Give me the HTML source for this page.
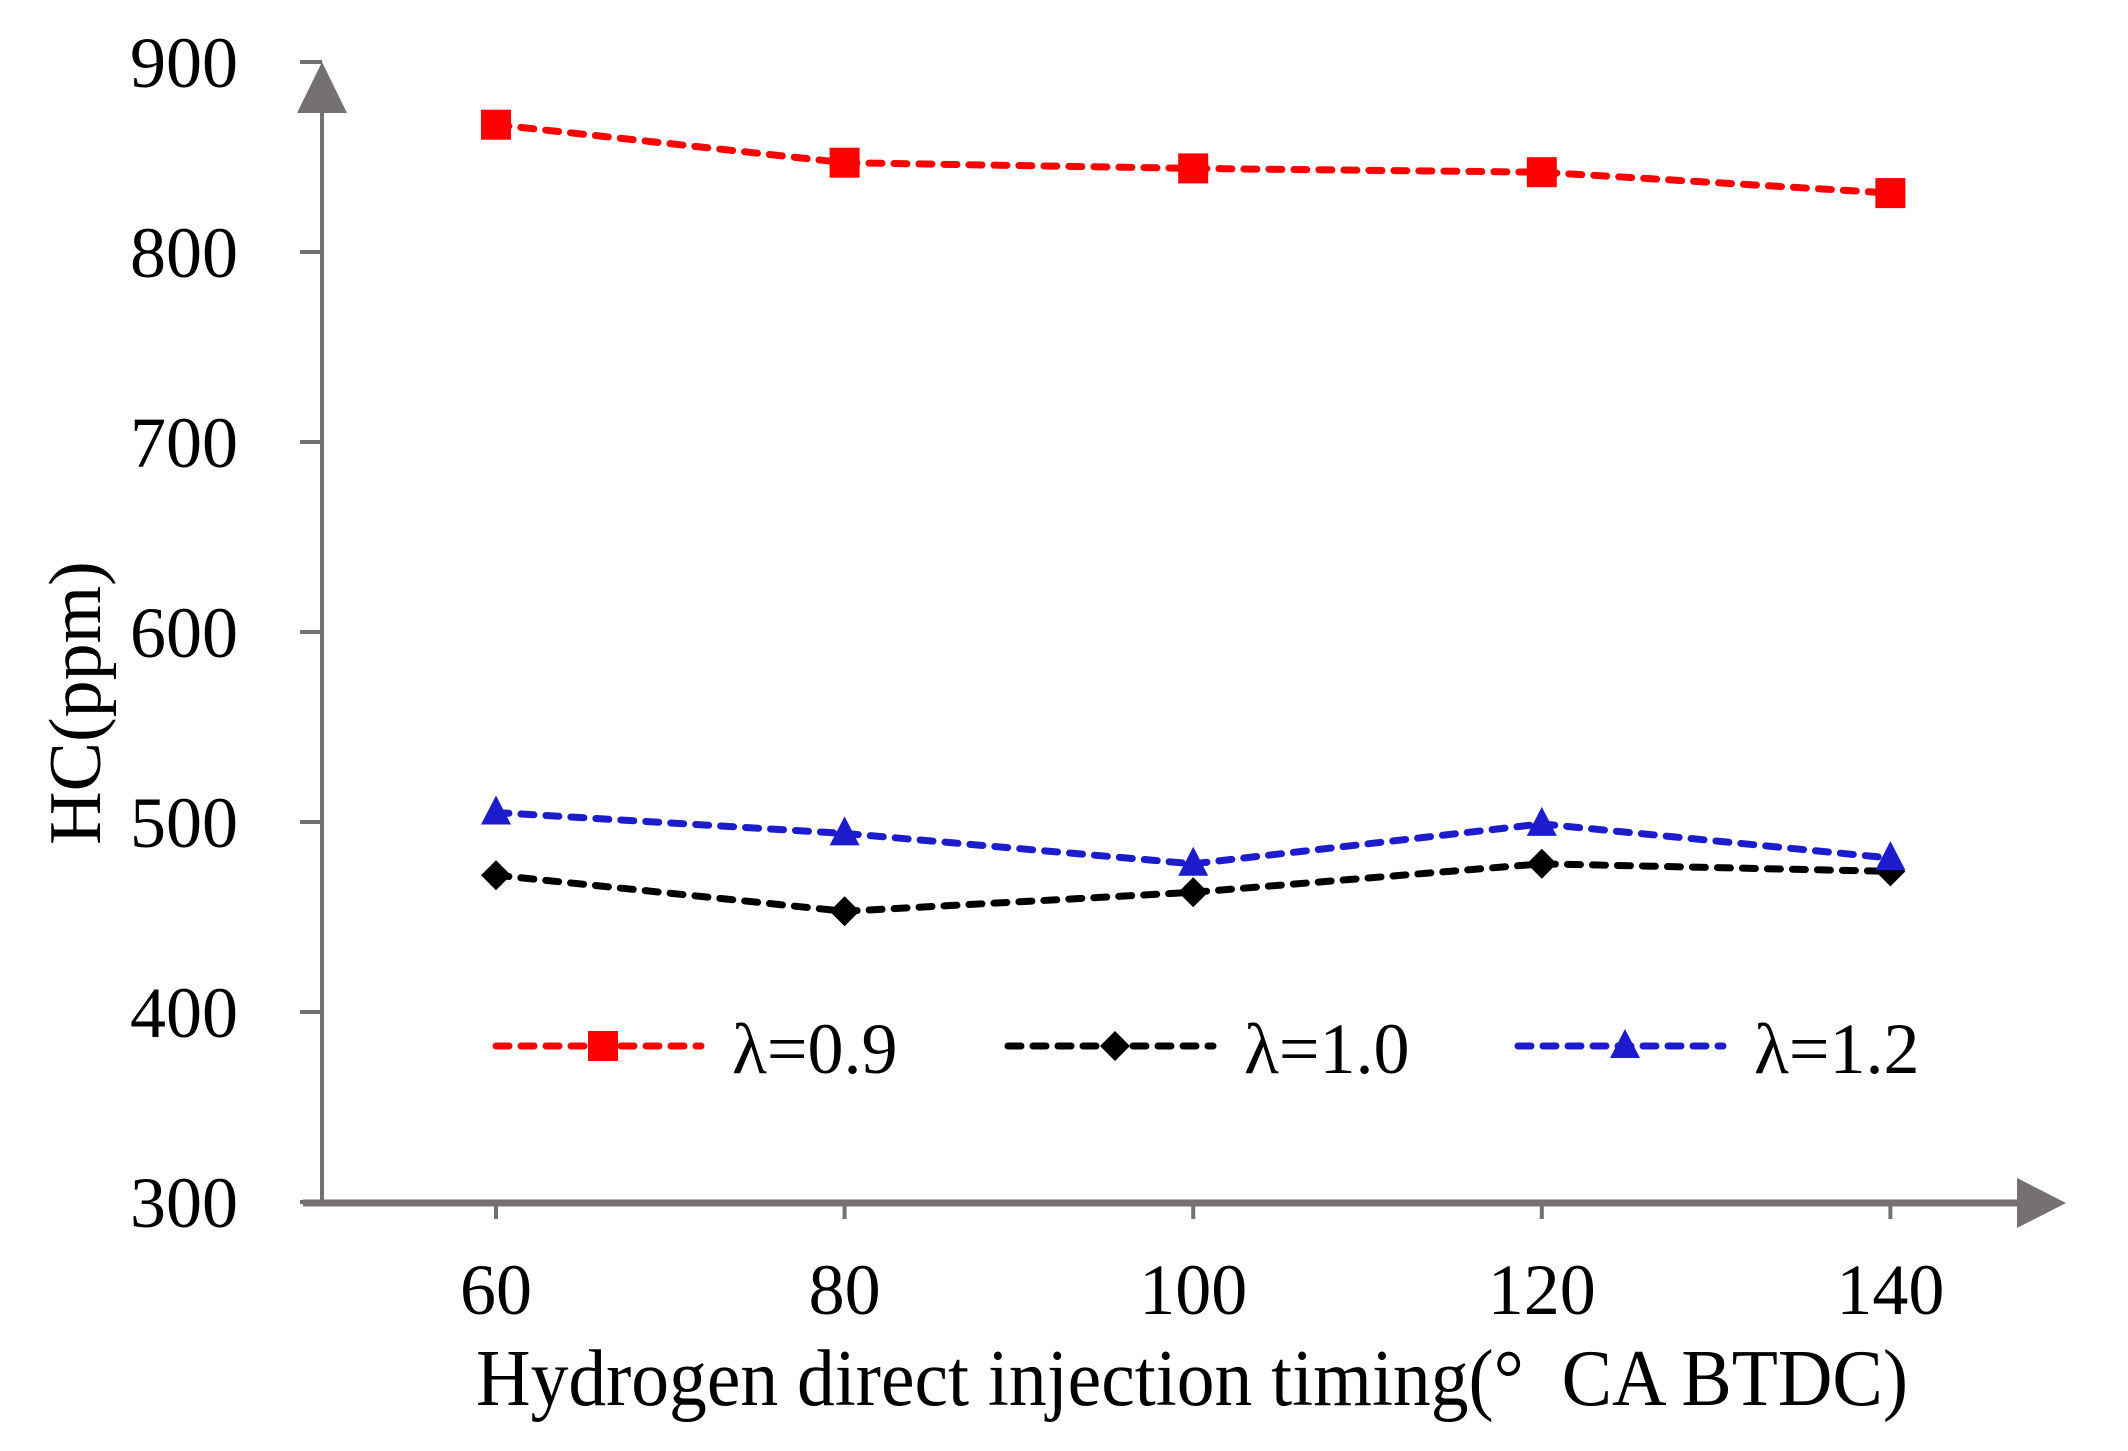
<!DOCTYPE html>
<html><head><meta charset="utf-8"><style>
html,body{margin:0;padding:0;background:#fff;}
svg{display:block;font-family:"Liberation Serif",serif;}
</style></head><body>
<svg id="chart" width="2128" height="1451" viewBox="0 0 2128 1451" xmlns="http://www.w3.org/2000/svg">
<g id="axes"></g>
<g id="series"></g>
<g id="legend"></g>
<text x="0" y="0" font-size="74" text-anchor="middle" transform="translate(100,703) rotate(-90)">HC(ppm)</text>
<text x="1192" y="1405" font-size="80" text-anchor="middle" textLength="1432" lengthAdjust="spacingAndGlyphs" xml:space="preserve">Hydrogen direct injection timing(°  CA BTDC)</text>
</svg>
<script>
const categories = [60, 80, 100, 120, 140];
const yTicks = [300, 400, 500, 600, 700, 800, 900];
const seriesNames = ['λ=0.9', 'λ=1.0', 'λ=1.2'];
const red = [867, 847, 844, 842, 831];
const black = [472, 453, 463, 478, 474];
const blue = [505, 494, 478, 499, 481];

const NS = 'http://www.w3.org/2000/svg';
const xs = v => 496 + (v - 60) * 17.43;
const ys = v => 1202 - (v - 300) * 1.9;
const axisColor = '#767171';
function mk(tag, attrs, parent){const e=document.createElementNS(NS,tag);for(const k in attrs)e.setAttribute(k,attrs[k]);parent.appendChild(e);return e;}
const axes=document.getElementById('axes');
let e;
e=mk('line',{x1:322,y1:1202,x2:322,y2:100,stroke:axisColor,'stroke-width':4},axes);


e=mk('polygon',{points:'322,62 297,113 347,113',fill:axisColor},axes);


e=mk('line',{x1:303,y1:1203,x2:2025,y2:1203,stroke:axisColor,'stroke-width':7},axes);


e=mk('polygon',{points:'2066,1203 2017,1178 2017,1228',fill:axisColor},axes);


yTicks.forEach(t=>{
  const y=ys(t);
  const l=mk('line',{x1:300,y1:y,x2:322,y2:y,stroke:axisColor,'stroke-width':4},axes);
  
  
  const tx=mk('text',{x:238,y:y+25,'font-size':72,'text-anchor':'end'},axes);
  tx.textContent=t;
  
  
});
categories.forEach(c=>{
  const x=xs(c);
  const l=mk('line',{x1:x,y1:1203,x2:x,y2:1219,stroke:axisColor,'stroke-width':4},axes);
  
  
  const tx=mk('text',{x:x,y:1314,'font-size':72,'text-anchor':'middle'},axes);
  tx.textContent=c;
  
  
});
function marker(kind,x,y,color,parent){
  let m;
  if(kind==='square') m=mk('rect',{x:x-15,y:y-15,width:30,height:30,fill:color},parent);
  else if(kind==='diamond') m=mk('polygon',{points:`${x},${y-15} ${x+15},${y} ${x},${y+15} ${x-15},${y}`,fill:color},parent);
  else m=mk('polygon',{points:`${x},${y-17} ${x+15},${y+12} ${x-15},${y+12}`,fill:color},parent);
  return m;
}
const ser=document.getElementById('series');
const defs=[{d:red,c:'#ff0000',m:'square',n:'red'},{d:black,c:'#000000',m:'diamond',n:'black'},{d:blue,c:'#1c1ccc',m:'triangle',n:'blue'}];
defs.forEach(s=>{
  const pts=s.d.map((v,i)=>xs(categories[i])+','+ys(v)).join(' ');
  const pl=mk('polyline',{points:pts,fill:'none',stroke:s.c,'stroke-width':7,'stroke-dasharray':'13 12','stroke-linecap':'round'},ser);
  
  
  s.d.forEach((v,i)=>{
    const m=marker(s.m,xs(categories[i]),ys(v),s.c,ser);
    
    
  });
});
const leg=document.getElementById('legend');
const lx=[496,1008,1518];
defs.forEach((s,i)=>{
  const x0=lx[i], y=1046;
  const l=mk('line',{x1:x0,y1:y,x2:x0+205,y2:y,stroke:s.c,'stroke-width':7,'stroke-dasharray':'13 12','stroke-linecap':'round'},leg);
  
  
  const m=marker(s.m,x0+107,y,s.c,leg);
  
  
  const t=mk('text',{x:x0+236,y:y+27,'font-size':72},leg);
  t.textContent=seriesNames[i];
  
  
});
</script>
</body></html>
